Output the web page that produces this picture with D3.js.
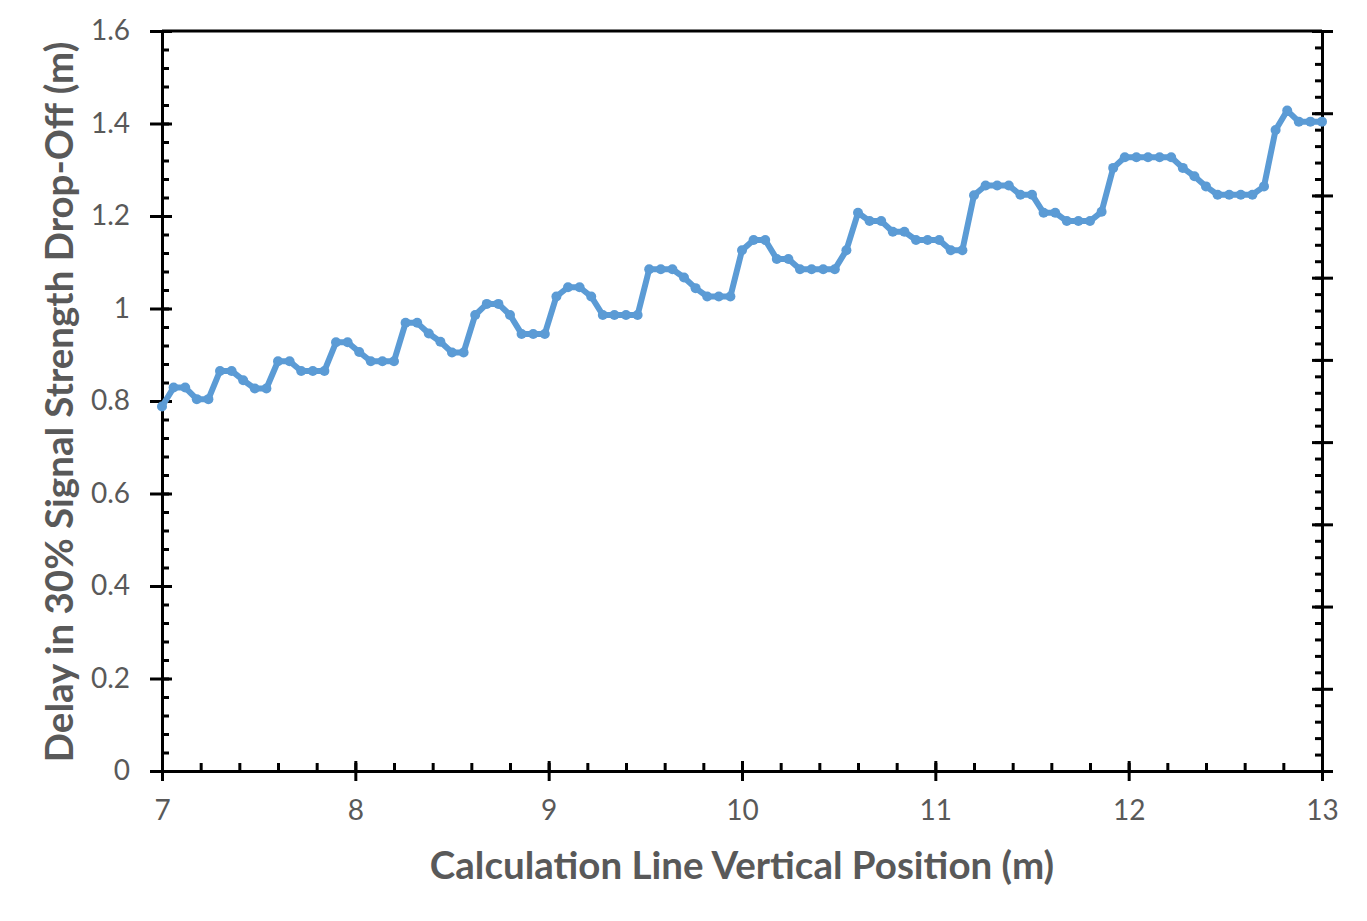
<!DOCTYPE html>
<html>
<head>
<meta charset="utf-8">
<script src="https://cdn.jsdelivr.net/npm/d3@7"></script>
<style>
  body { margin: 0; background: #fff; }
  text { font-family: Lato, "Open Sans", sans-serif; }
</style>
</head>
<body>
<script>
var margin = {top: 31, right: 45, bottom: 150, left: 162},
    W = 1367, H = 921,
    w = W - margin.left - margin.right,
    h = H - margin.top - margin.bottom;

// calculation line vertical position (m)
var positions = [7, 7.06, 7.12, 7.18, 7.24, 7.3, 7.36, 7.42, 7.48, 7.54,
  7.6, 7.66, 7.72, 7.78, 7.84, 7.9, 7.96, 8.02, 8.08, 8.14,
  8.2, 8.26, 8.32, 8.38, 8.44, 8.5, 8.56, 8.62, 8.68, 8.74,
  8.8, 8.86, 8.92, 8.98, 9.04, 9.1, 9.16, 9.22, 9.28, 9.34,
  9.4, 9.46, 9.52, 9.58, 9.64, 9.7, 9.76, 9.82, 9.88, 9.94,
  10, 10.06, 10.12, 10.18, 10.24, 10.3, 10.36, 10.42, 10.48, 10.54,
  10.6, 10.66, 10.72, 10.78, 10.84, 10.9, 10.96, 11.02, 11.08, 11.14,
  11.2, 11.26, 11.32, 11.38, 11.44, 11.5, 11.56, 11.62, 11.68, 11.74,
  11.8, 11.86, 11.92, 11.98, 12.04, 12.1, 12.16, 12.22, 12.28, 12.34,
  12.4, 12.46, 12.52, 12.58, 12.64, 12.7, 12.76, 12.82, 12.88, 12.94,
  13];

// delay in 30% signal strength drop-off (m)
var delays = [0.788, 0.829, 0.829, 0.804, 0.804, 0.865, 0.865, 0.845, 0.827, 0.827,
  0.886, 0.886, 0.865, 0.865, 0.865, 0.927, 0.927, 0.906, 0.886, 0.886,
  0.886, 0.969, 0.969, 0.946, 0.928, 0.905, 0.905, 0.986, 1.010, 1.010,
  0.986, 0.945, 0.945, 0.945, 1.026, 1.046, 1.046, 1.026, 0.986, 0.986,
  0.986, 0.986, 1.085, 1.085, 1.085, 1.067, 1.044, 1.026, 1.026, 1.026,
  1.126, 1.148, 1.148, 1.107, 1.107, 1.085, 1.085, 1.085, 1.085, 1.126,
  1.207, 1.189, 1.189, 1.166, 1.166, 1.148, 1.148, 1.148, 1.126, 1.126,
  1.245, 1.266, 1.266, 1.266, 1.246, 1.246, 1.207, 1.207, 1.189, 1.189,
  1.189, 1.209, 1.304, 1.327, 1.327, 1.327, 1.327, 1.327, 1.304, 1.286,
  1.264, 1.246, 1.246, 1.246, 1.246, 1.264, 1.386, 1.428, 1.404, 1.404,
  1.404];

var xTicks = [7, 8, 9, 10, 11, 12, 13];
var yTicks = [0, 0.2, 0.4, 0.6, 0.8, 1, 1.2, 1.4, 1.6];
var xMinor = d3.range(7, 13.001, 0.2);   // tick marks only
var yMinor = d3.range(0, 1.6001, 0.04);
var rMajor = d3.range(0, 9.001, 1);       // unlabelled secondary axis
var rMinor = d3.range(0, 9.001, 0.2);

var data = positions.map(function(p, i) { return {x: p, y: delays[i]}; });

var svg = d3.select("body").append("svg")
    .attr("width", W)
    .attr("height", H);

var g = svg.append("g")
    .attr("transform", "translate(" + margin.left + "," + margin.top + ")");

var x = d3.scaleLinear().domain([7, 13]).range([0, w]);
var y = d3.scaleLinear().domain([0, 1.6]).range([h, 0]);
var yr = d3.scaleLinear().domain([0, 9]).range([h, 0]);

var grey = "#595959";

// minor ticks (inside)
g.append("g").attr("transform", "translate(0," + h + ")")
  .call(d3.axisTop(x).tickValues(xMinor).tickSize(8).tickFormat(""))
  .call(function(a) { a.select(".domain").remove(); });
g.append("g")
  .call(d3.axisRight(y).tickValues(yMinor).tickSize(7).tickFormat(""))
  .call(function(a) { a.select(".domain").remove(); });
g.append("g").attr("transform", "translate(" + w + ",0)")
  .call(d3.axisLeft(yr).tickValues(rMinor).tickSize(7).tickFormat(""))
  .call(function(a) { a.select(".domain").remove(); });

// major ticks crossing the axes
var xAxis = g.append("g").attr("transform", "translate(0," + h + ")")
  .call(d3.axisBottom(x).tickValues(xTicks).tickSize(10).tickPadding(19).tickFormat(d3.format("d")));
xAxis.selectAll(".tick line").attr("y1", -10);

var yAxis = g.append("g")
  .call(d3.axisLeft(y).tickValues(yTicks).tickSize(12).tickPadding(20).tickFormat(function(d) { return d === 0 || d === 1 ? d : d3.format(".1f")(d); }));
yAxis.selectAll(".tick line").attr("x1", 10);

var rAxis = g.append("g").attr("transform", "translate(" + w + ",0)")
  .call(d3.axisRight(yr).tickValues(rMajor).tickSize(11).tickFormat(""));
rAxis.selectAll(".tick line").attr("x1", -10);

// top border
g.append("line")
  .attr("x1", 0).attr("x2", w)
  .attr("y1", 0).attr("y2", 0)
  .attr("stroke", "#000").attr("stroke-width", 3);

g.selectAll(".domain").attr("stroke", "#000").attr("stroke-width", 3);
g.selectAll(".tick line").attr("stroke", "#000").attr("stroke-width", 3);
g.selectAll(".tick text").attr("fill", grey).style("font-size", "28px");

// series
var line = d3.line()
  .x(function(d) { return x(d.x); })
  .y(function(d) { return y(d.y); });

g.append("path")
  .datum(data)
  .attr("fill", "none")
  .attr("stroke", "#5B9BD5")
  .attr("stroke-width", 6)
  .attr("stroke-linejoin", "round")
  .attr("d", line);

g.selectAll(".pt")
  .data(data)
  .enter()
  .append("circle")
  .attr("class", "pt")
  .attr("cx", function(d) { return x(d.x); })
  .attr("cy", function(d) { return y(d.y); })
  .attr("r", 5)
  .attr("fill", "#5B9BD5");

// axis titles
svg.append("text")
  .attr("x", margin.left + w / 2)
  .attr("y", 879)
  .attr("text-anchor", "middle")
  .attr("fill", grey)
  .style("font-size", "38.5px")
  .style("font-weight", "bold")
  .text("Calculation Line Vertical Position (m)");

svg.append("text")
  .attr("transform", "translate(73," + (margin.top + h / 2 + 1) + ") rotate(-90)")
  .attr("text-anchor", "middle")
  .attr("fill", grey)
  .style("font-size", "38.5px")
  .style("font-weight", "bold")
  .text("Delay in 30% Signal Strength Drop-Off (m)");
</script>
</body>
</html>
